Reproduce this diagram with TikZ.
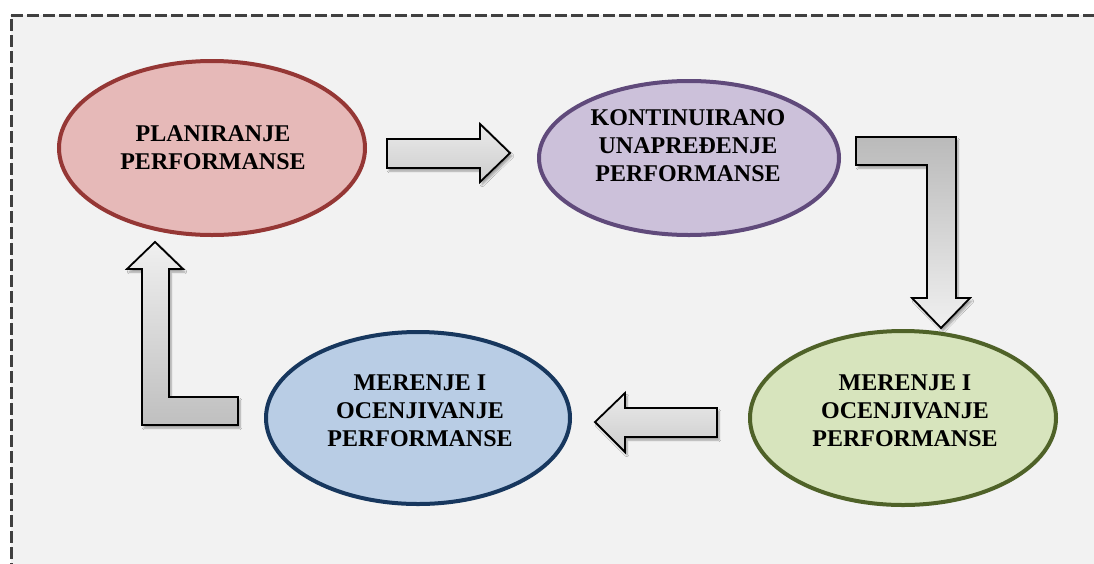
\documentclass[tikz,border=0pt]{standalone}
\usepackage{fontspec}
\setmainfont{Liberation Serif}
\usetikzlibrary{shadows.blur}
\definecolor{framegray}{HTML}{404040}
\definecolor{panel}{HTML}{F2F2F2}
\definecolor{redfill}{HTML}{E6B9B8}
\definecolor{redline}{HTML}{953735}
\definecolor{purpfill}{HTML}{CCC1DA}
\definecolor{purpline}{HTML}{604A7B}
\definecolor{greenfill}{HTML}{D7E4BD}
\definecolor{greenline}{HTML}{4F6228}
\definecolor{bluefill}{HTML}{B9CDE5}
\definecolor{blueline}{HTML}{17375E}
\tikzset{
  phase/.style={line width=4pt},
  caption/.style={align=center, font=\fontsize{24}{28}\selectfont\bfseries, inner sep=0pt},
  blockarrow/.style={draw=black, line width=1.8pt, line join=miter,
    blur shadow={shadow xshift=2pt, shadow yshift=-3pt, shadow blur steps=6, shadow opacity=35}},
  flatarrow/.style={blockarrow, top color=black!8, bottom color=black!20},
  downarrow/.style={blockarrow, top color=black!27, bottom color=black!6},
  uparrow/.style={blockarrow, top color=black!6, bottom color=black!25},
}
\begin{document}
\begin{tikzpicture}[x=1pt, y=-1pt]
  \useasboundingbox (0,0) rectangle (1094,563);
  % dashed panel
  \fill[white] (0,0) rectangle (1094,563);
  \draw[framegray, fill=panel, line width=3pt, dash pattern=on 12pt off 4pt]
    (11,15) -- (1110,15) -- (1110,580) -- (11,580) -- cycle;

  % phases
  \draw[phase, draw=redline, fill=redfill] (212,148) ellipse [x radius=153, y radius=87];
  \draw[phase, draw=purpline, fill=purpfill] (689,158) ellipse [x radius=150, y radius=77];
  \draw[phase, draw=greenline, fill=greenfill] (903,418) ellipse [x radius=153, y radius=87];
  \draw[phase, draw=blueline, fill=bluefill] (418,418) ellipse [x radius=152, y radius=86];

  \node[caption] (plan) at (213,148) {PLANIRANJE\\PERFORMANSE};
  \node[caption] (unap) at (688,146) {KONTINUIRANO\\UNAPREĐENJE\\PERFORMANSE};
  \node[caption] (mer1) at (905,411) {MERENJE I\\OCENJIVANJE\\PERFORMANSE};
  \node[caption] (mer2) at (420,411) {MERENJE I\\OCENJIVANJE\\PERFORMANSE};

  % block arrows
  \draw[flatarrow] (387,139) -- (480,139) -- (480,124) -- (510,153) -- (480,182)
    -- (480,168) -- (387,168) -- cycle;
  \draw[downarrow] (856,137) -- (956,137) -- (956,298) -- (970,298) -- (941,328)
    -- (912,298) -- (927,298) -- (927,165) -- (856,165) -- cycle;
  \draw[flatarrow] (717,408) -- (625,408) -- (625,393) -- (595,422) -- (625,452)
    -- (625,437) -- (717,437) -- cycle;
  \draw[uparrow] (238,397) -- (238,425) -- (142,425) -- (142,269) -- (127,269)
    -- (155,242) -- (183,269) -- (169,269) -- (169,397) -- cycle;
\end{tikzpicture}
\end{document}
